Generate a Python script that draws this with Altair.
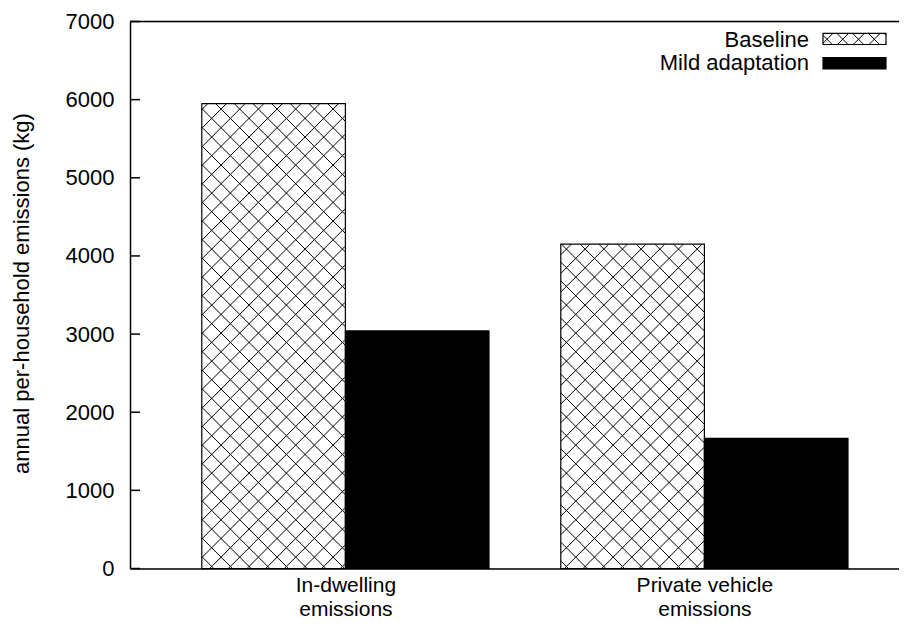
import math
import json
import altair as alt
import pandas as pd

# ---------------- data ----------------
categories = ["In-dwelling emissions", "Private vehicle emissions"]
category_lines = [["In-dwelling", "emissions"], ["Private vehicle", "emissions"]]
series = ["Baseline", "Mild adaptation"]
baseline = [5950, 4150]
mild_adaptation = [3040, 1665]
y_ticks = [0, 1000, 2000, 3000, 4000, 5000, 6000, 7000]
y_title = "annual per-household emissions (kg)"

# ---------------- layout / style ----------------
FONT = "Liberation Sans"
FS = 22
XFS = 21
TOP = 13.5
W, H = 769, 547
XMIN = -0.6
XMAX = XMIN + W / 359.0
YMAX = 7000
BW = 0.4
sx = W / (XMAX - XMIN)
sy = H / YMAX
LINE_W = 1.5
SHIFT = 9.5 - TOP  # keep legend at the same page position

def px_x(x):
    return (x - XMIN) * sx

def px_y(v):
    return H - v * sy

def dx(p):
    return XMIN + p / sx

def dy(p):
    return (H - p) / sy

def hatch(X0, X1, Y0, Y1, period, pa, pb):
    """45-degree cross hatch clipped to a pixel rectangle (y down)."""
    segs = []
    cmin, cmax = X0 - Y1, X1 - Y0
    c = pa + math.ceil((cmin - pa) / period) * period
    while c <= cmax:
        xa, xb = max(X0, c + Y0), min(X1, c + Y1)
        if xb - xa > 0.3:
            segs.append((xa, xa - c, xb, xb - c))
        c += period
    cmin, cmax = X0 + Y0, X1 + Y1
    c = pb + math.ceil((cmin - pb) / period) * period
    while c <= cmax:
        xa, xb = max(X0, c - Y1), min(X1, c - Y0)
        if xb - xa > 0.3:
            segs.append((xa, c - xa, xb, c - xb))
        c += period
    return segs

bars = pd.DataFrame({
    "pos": [i for i in range(len(categories)) for _ in series],
    "category": [c for c in categories for _ in series],
    "series": series * len(categories),
    "value": [v for pair in zip(baseline, mild_adaptation) for v in pair],
})

PERIOD = 18.67
PA = (81.7 - 78.2) % PERIOD
PB = (81.7 + 78.2) % PERIOD
segs = []
for i, v in enumerate(baseline):
    segs += hatch(px_x(i - BW), px_x(i), px_y(v), px_y(0), PERIOD, PA, PB)
LEG_X0, LEG_X1 = 693, 756
LEG_Y0 = [15.8 + SHIFT, 40.2 + SHIFT]
LEG_H = 11.2
segs += hatch(LEG_X0, LEG_X1, LEG_Y0[0], LEG_Y0[0] + LEG_H, 15.75, 2.0, 6.0)
hatch_df = pd.DataFrame({
    "x0": [dx(s[0]) for s in segs],
    "value": [dy(s[1]) for s in segs],
    "x1": [dx(s[2]) for s in segs],
    "value2": [dy(s[3]) for s in segs],
})

# ---------------- scales & axes ----------------
xscale = alt.Scale(domain=[XMIN, XMAX], nice=False, zero=False)
yscale = alt.Scale(domain=[0, YMAX], nice=False, zero=True)

expr = "''"
for i in reversed(range(len(category_lines))):
    expr = f"datum.value == {i} ? {json.dumps(category_lines[i])} : ({expr})"

xaxis = alt.Axis(values=list(range(len(categories))), labelExpr=expr, title=None,
                 ticks=False, grid=False, labelPadding=6, labelLineHeight=23.5,
                 labelFontSize=XFS, labelFont=FONT, labelColor="black",
                 domainColor="black", domainWidth=LINE_W, labelFlush=False,
                 labelOverlap=False, labelAlign="center", labelBaseline="top")
yaxis = alt.Axis(values=y_ticks, title=y_title, ticks=False, grid=False,
                 labelPadding=16, labelFontSize=FS, labelFont=FONT, labelColor="black",
                 domainColor="black", domainWidth=LINE_W, labelFlush=False,
                 labelOverlap=False, format="d",
                 titleFont=FONT, titleFontSize=FS, titleFontWeight="normal",
                 titleColor="black", titleX=-109, titleY=H / 2 + SHIFT / 2, titleAngle=270,
                 titleAlign="center", titleBaseline="middle")

fill_scale = alt.Scale(domain=series, range=["white", "black"])

base = alt.Chart(bars).transform_calculate(
    x0=f"datum.pos + (datum.series == '{series[0]}' ? {-BW} : 0)",
    x1=f"datum.pos + (datum.series == '{series[0]}' ? 0 : {BW})",
    zero="0",
)
enc = dict(
    x=alt.X("x0:Q", scale=xscale, axis=xaxis),
    x2="x1:Q",
    y=alt.Y("value:Q", scale=yscale, axis=yaxis),
    y2="zero:Q",
)

bar_fill = base.mark_rect(strokeWidth=0).encode(
    fill=alt.Fill("series:N", scale=fill_scale, legend=None), **enc)

hatch_layer = alt.Chart(hatch_df).mark_rule(color="black", strokeWidth=1).encode(
    x=alt.X("x0:Q", scale=xscale, axis=xaxis), x2="x1:Q",
    y=alt.Y("value:Q", scale=yscale, axis=yaxis), y2="value2:Q")

bar_outline = base.mark_rect(filled=False, stroke="black", strokeWidth=1.2).encode(**enc)

tick_layer = alt.Chart(pd.DataFrame({"value": y_ticks})).mark_rule(
    color="black", strokeWidth=LINE_W).encode(
    y=alt.Y("value:Q", scale=yscale, axis=yaxis), x=alt.value(0), x2=alt.value(10))

top_border = alt.Chart(pd.DataFrame({"a": [0]})).mark_rule(
    color="black", strokeWidth=LINE_W).encode(
    x=alt.value(0), x2=alt.value(W), y=alt.value(0))

legend_layers = []
leg_fill = ["white", "black"]
for k, name in enumerate(series):
    d = alt.Chart(pd.DataFrame({"series": [name]}))
    legend_layers.append(d.mark_rect(fill=leg_fill[k], strokeWidth=0).encode(
        x=alt.value(LEG_X0), x2=alt.value(LEG_X1),
        y=alt.value(LEG_Y0[k]), y2=alt.value(LEG_Y0[k] + LEG_H)))

legend_outlines = []
legend_text = []
text_y = [29.2 + SHIFT, 52.5 + SHIFT]
for k, name in enumerate(series):
    d = alt.Chart(pd.DataFrame({"series": [name]}))
    legend_outlines.append(d.mark_rect(filled=False, stroke="black", strokeWidth=1.2).encode(
        x=alt.value(LEG_X0), x2=alt.value(LEG_X1),
        y=alt.value(LEG_Y0[k]), y2=alt.value(LEG_Y0[k] + LEG_H)))
    legend_text.append(d.mark_text(align="right", baseline="alphabetic", font=FONT,
                                   fontSize=FS, color="black").encode(
        x=alt.value(679), y=alt.value(text_y[k]), text="series:N"))

chart = alt.layer(
    bar_fill, *legend_layers, hatch_layer, bar_outline, *legend_outlines,
    tick_layer, top_border, *legend_text
).properties(
    width=W, height=H,
    autosize=alt.AutoSizeParams(type="none"),
    padding={"left": 122, "top": TOP, "right": 0, "bottom": 51.5},
).configure_view(stroke=None).configure(font=FONT, background="white")

chart.save("out.html", embed_options={"renderer": "svg", "actions": False})
